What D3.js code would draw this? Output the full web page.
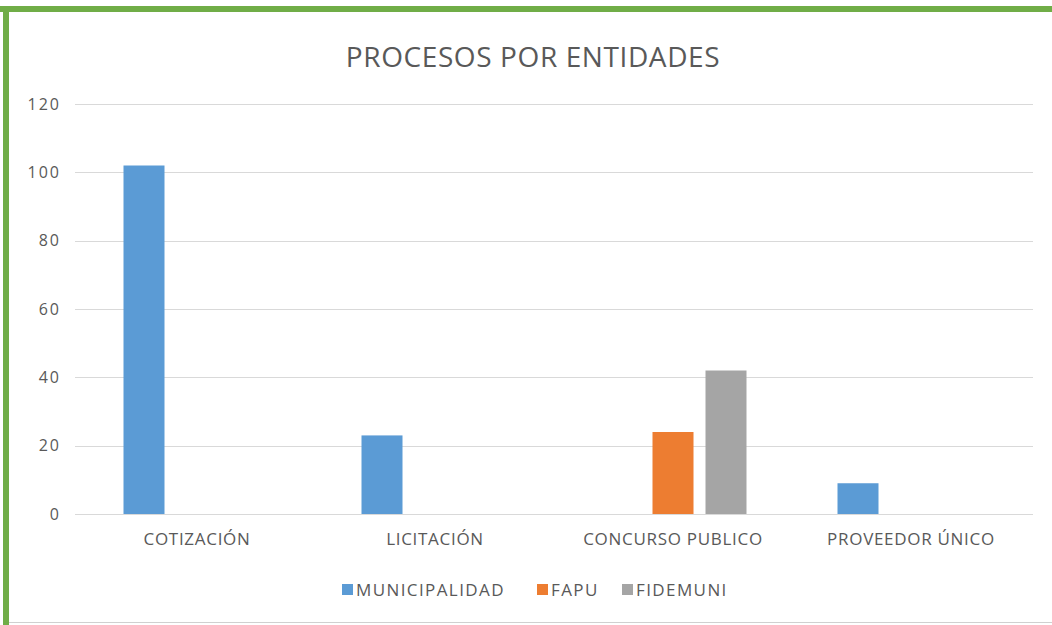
<!DOCTYPE html>
<html><head><meta charset="utf-8">
<script src="https://cdn.jsdelivr.net/npm/d3@7"></script>
<style>body{margin:0;background:#fff;}svg{display:block;}</style>
</head><body>
<svg id="c" width="1052" height="625"></svg>
<script>
const title = "PROCESOS POR ENTIDADES";
const categories = ["COTIZACIÓN", "LICITACIÓN", "CONCURSO PUBLICO", "PROVEEDOR ÚNICO"];
const seriesNames = ["MUNICIPALIDAD", "FAPU", "FIDEMUNI"];
const municipalidad = [102, 23, 0, 9];
const fapu = [0, 0, 24, 0];
const fidemuni = [0, 0, 42, 0];
const yTicks = [0, 20, 40, 60, 80, 100, 120];
const colors = ["#5B9BD5", "#ED7D31", "#A5A5A5"];

const seriesValues = [municipalidad, fapu, fidemuni];
const svg = d3.select("#c");
const font = "'Open Sans', 'Noto Sans', sans-serif";

// frame
svg.append("rect").attr("x",0).attr("y",0).attr("width",1052).attr("height",625).attr("fill","#fff");
svg.append("rect").attr("x",0).attr("y",6).attr("width",1052).attr("height",6).attr("fill","#70AD47");
svg.append("rect").attr("x",3).attr("y",6).attr("width",6).attr("height",619).attr("fill","#70AD47");
svg.append("line").attr("x1",9).attr("x2",1052).attr("y1",622.5).attr("y2",622.5).attr("stroke","#d0d0d0").attr("stroke-width",1);

const g0 = 75, g1 = 1033, yTop = 104, yBot = 514;
const x = d3.scaleBand().domain(categories).range([78, 1030]).paddingInner(0).paddingOuter(0);
const y = d3.scaleLinear().domain([0, 120]).range([yBot, yTop]);

// gridlines
svg.append("g").selectAll("line").data(yTicks).join("line")
  .attr("x1", g0).attr("x2", g1)
  .attr("y1", d => Math.round(y(d))+0.5).attr("y2", d => Math.round(y(d))+0.5)
  .attr("stroke", "#D9D9D9").attr("stroke-width", 1);

// y axis labels
const yAxis = d3.axisLeft(y).tickValues(yTicks).tickSize(0).tickPadding(0);
const ya = svg.append("g").attr("transform", "translate(61,0)").call(yAxis);
ya.select(".domain").remove();
ya.selectAll("text").attr("font-family", font).attr("font-size", 16).attr("letter-spacing", 2).attr("fill", "#595959");

// bars
const barW = 41, gap = 12;
const groupW = barW*3 + gap*2;
const sub = d3.scaleBand().domain(seriesNames).range([0, groupW]).paddingInner(gap/(barW+gap)).paddingOuter(0);
categories.forEach((c, ci) => {
  const gx = x(c) + x.bandwidth()/2 - groupW/2;
  seriesNames.forEach((s, si) => {
    const v = seriesValues[si][ci];
    if (!v) return;
    svg.append("rect")
      .attr("x", gx + sub(s)).attr("width", sub.bandwidth())
      .attr("y", y(v)).attr("height", y(0) - y(v))
      .attr("fill", colors[si]);
  });
});

// x axis labels
const xAxis = d3.axisBottom(x).tickSize(0).tickPadding(0);
const xa = svg.append("g").attr("transform", "translate(0,530)").call(xAxis);
xa.select(".domain").remove();
xa.selectAll("text").attr("font-family", font).attr("font-size", 17).attr("letter-spacing", 0.7)
  .attr("fill", "#595959").attr("dy","0.9em");

// title
svg.append("text").attr("x", 533).attr("y", 67).attr("text-anchor","middle")
  .attr("font-family", font).attr("font-size", 28).attr("letter-spacing", 0.6).attr("fill", "#595959").text(title);

// legend
const legendX = [342, 537, 622];
const lg = svg.append("g");
seriesNames.forEach((s, i) => {
  lg.append("rect").attr("x", legendX[i]).attr("y", 584).attr("width", 11).attr("height", 11).attr("fill", colors[i]);
  lg.append("text").attr("x", legendX[i] + 14).attr("y", 596).attr("font-family", font)
    .attr("font-size", 17).attr("letter-spacing", 1.4).attr("fill", "#595959").text(s);
});
</script>
</body></html>
